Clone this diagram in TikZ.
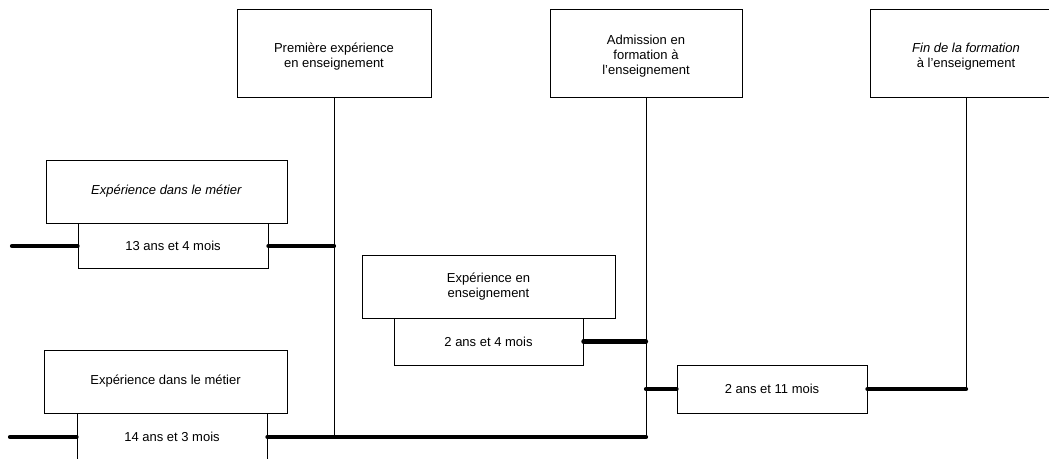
\documentclass[tikz,border=0pt]{standalone}
\usepackage{fontspec}
\setmainfont{Liberation Sans}
\newcommand\boxfont{\fontsize{13}{15}\selectfont}
\begin{document}
\begin{tikzpicture}[x=1pt,y=-1pt,
  box/.style={draw, line width=0.8pt, inner sep=0pt, align=center, font=\boxfont, fill=white},
  toptext/.style={align=center, font=\boxfont, inner sep=0pt, yshift=-4pt},
  bar/.style={line width=4.2pt, line cap=round},
  link/.style={line width=0.8pt}]
\useasboundingbox (0,0) rectangle (1049,458);
\clip (0,0) rectangle (1049,458);

% milestones along the top (text sits a little below the middle)
\node[box, minimum width=194, minimum height=88,
  label={[toptext]center:{Première expérience\\en enseignement}}] (first) at (334,53) {};
\node[box, minimum width=192, minimum height=88,
  label={[toptext, yshift=1pt]center:{Admission en\\formation à\\l'enseignement}}] (admit) at (646,53) {};
\node[box, minimum width=192, minimum height=88,
  label={[toptext]center:{\textit{Fin de la formation}\\à l'enseignement}}] (finish) at (966,53) {};

% first time line: work experience before teaching
\node[box, minimum width=241, minimum height=63] (trade1) at (166.5,191.5)
  {\textit{Expérience dans le métier}};
\node[box, minimum width=190, minimum height=45] (dur1) at (173,246)
  {13 ans et 4 mois};

% teaching experience before admission
\node[box, minimum width=253, minimum height=63] (teach) at (488.5,286.5)
  {Expérience en\\enseignement};
\node[box, minimum width=189, minimum height=47] (dur2) at (488.5,341.5)
  {2 ans et 4 mois};

% second time line: work experience up to admission
\node[box, minimum width=243, minimum height=63] (trade2) at (165.5,381.5)
  {Expérience dans le métier};
\node[box, minimum width=190, minimum height=48] (dur3) at (172,437)
  {14 ans et 3 mois};

% length of the training
\node[box, minimum width=190, minimum height=48] (dur4) at (772,389)
  {2 ans et 11 mois};

% free ends on the left
\coordinate (start1) at (dur1.west -| 12,0);
\coordinate (start2) at (dur3.west -| 10,0);

% drop lines from the milestones
\coordinate (firstfoot) at (first.south |- 0,437);
\coordinate (admitfoot) at (admit.south |- 0,437);
\coordinate (finishfoot) at (finish.south |- dur4.east);
\draw[link] (first.south) -- (firstfoot);
\draw[link] (admit.south) -- (admitfoot);
\draw[link] (finish.south) -- (finishfoot);

% thick segments of the time lines
\draw[bar] (start1) -- (dur1.west);
\draw[bar] (dur1.east) -- (dur1.east -| first.south);
\draw[bar] (start2) -- (dur3.west);
\draw[bar] (dur3.east) -- (admitfoot);
\draw[bar] (dur2.east) -- (dur2.east -| admit.south);
\draw[bar] (dur4.west -| admit.south) -- (dur4.west);
\draw[bar] (dur4.east) -- (finishfoot);
\end{tikzpicture}
\end{document}
